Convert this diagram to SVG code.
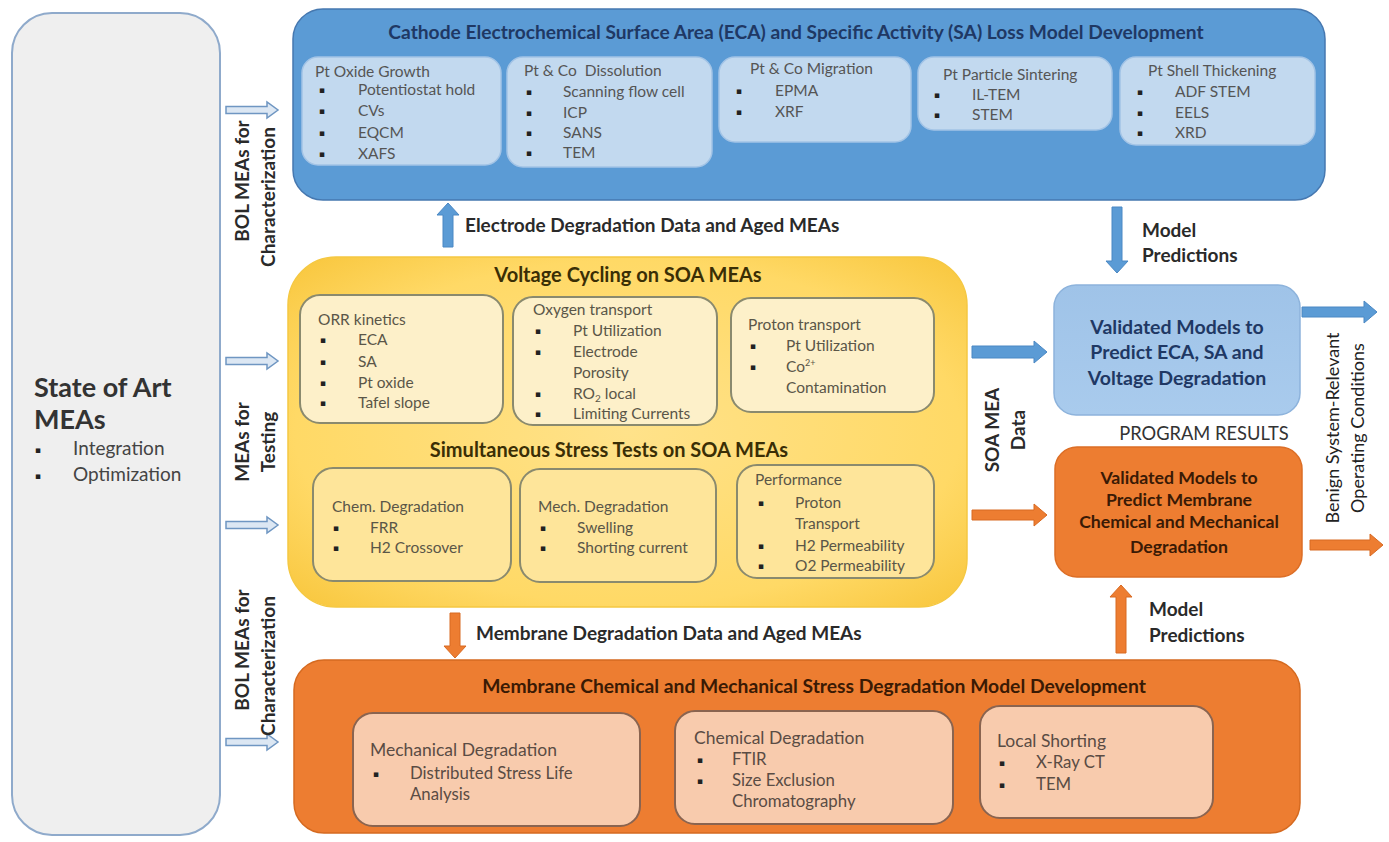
<svg xmlns="http://www.w3.org/2000/svg" width="1389" height="842" viewBox="0 0 1389 842">
<defs>
<radialGradient id="gY" cx="0.5" cy="0.5" r="0.7">
<stop offset="0" stop-color="#ffe28a"/><stop offset="0.7" stop-color="#ffd966"/><stop offset="1" stop-color="#f8c63c"/>
</radialGradient>
<linearGradient id="gB" x1="0" y1="0" x2="0" y2="1">
<stop offset="0" stop-color="#9fc3e8"/><stop offset="1" stop-color="#a9cbed"/>
</linearGradient>
<path id="hollow" d="M0,-3.5 H41 V-8 L52,0 L41,8 V3.5 H0 Z"/>
</defs>
<style>
text{font-family:Lato,"Liberation Sans",sans-serif}
.b{font-weight:bold}
.subB{fill:#c2d9ef;stroke:#a3c4e6;stroke-width:1.5}
.subY1{fill:#fdf0c9;stroke:#8a8a6e;stroke-width:2}
.subY2{fill:#fee59a;stroke:#8a8a6e;stroke-width:2}
.subO{fill:#f8cbad;stroke:#8a6450;stroke-width:2}
.t{font-size:15.5px;fill:#555}
.ty{font-size:15.5px;fill:#5a5648}
.to{font-size:16.8px;fill:#5a4c44}
.toh{font-size:17.5px;fill:#5a4c44}
.bu{font-family:"DejaVu Sans",sans-serif;font-size:9px;fill:#222;transform:translateY(-2px)}
.lab{font-size:19px;font-weight:bold;fill:#2a2a2a}
.hol{fill:#dce7f3;stroke:#6f96c2;stroke-width:1.5}
.ab{fill:#5b9bd5;stroke:#4a88c4;stroke-width:1}
.ao{fill:#ed7d31;stroke:#d86a22;stroke-width:1}
</style>

<!-- State of Art MEAs -->
<g id="soa">
<rect x="12" y="13" width="208" height="822" rx="40" fill="#efefef" stroke="#8faacb" stroke-width="2"/>
<text x="34" y="397" class="b" font-size="27" fill="#333">State of Art</text>
<text x="34" y="429" class="b" font-size="27" fill="#333">MEAs</text>
<text x="35" y="455" class="bu">▪</text><text x="73" y="455" font-size="19" fill="#444">Integration</text>
<text x="35" y="481" class="bu">▪</text><text x="73" y="481" font-size="19" fill="#444">Optimization</text>
</g>

<!-- Cathode model -->
<g id="cathode-model">
<rect x="293" y="9" width="1032" height="191" rx="30" fill="#5b9bd5" stroke="#4678b0" stroke-width="1.5"/>
<text x="796" y="39" text-anchor="middle" class="b" font-size="19.2" fill="#1f3864">Cathode Electrochemical Surface Area (ECA) and Specific Activity (SA) Loss Model Development</text>
</g>
<g id="pt-oxide">
<rect x="302" y="57" width="199" height="108" rx="16" class="subB"/>
<text x="315" y="77" class="t">Pt Oxide Growth</text>
<text x="319" y="95" class="bu">▪</text><text x="358" y="95" class="t">Potentiostat hold</text>
<text x="319" y="116" class="bu">▪</text><text x="358" y="116" class="t">CVs</text>
<text x="319" y="138" class="bu">▪</text><text x="358" y="138" class="t">EQCM</text>
<text x="319" y="159" class="bu">▪</text><text x="358" y="159" class="t">XAFS</text>
</g>
<g id="dissolution">
<rect x="507" y="57" width="205" height="110" rx="16" class="subB"/>
<text x="524" y="76" class="t">Pt &amp; Co&#160; Dissolution</text>
<text x="526" y="97" class="bu">▪</text><text x="563" y="97" class="t">Scanning flow cell</text>
<text x="526" y="118" class="bu">▪</text><text x="563" y="118" class="t">ICP</text>
<text x="526" y="138" class="bu">▪</text><text x="563" y="138" class="t">SANS</text>
<text x="526" y="158" class="bu">▪</text><text x="563" y="158" class="t">TEM</text>
</g>
<g id="migration">
<rect x="719" y="57" width="192" height="85" rx="16" class="subB"/>
<text x="750" y="74" class="t">Pt &amp; Co Migration</text>
<text x="736" y="96" class="bu">▪</text><text x="775" y="96" class="t">EPMA</text>
<text x="736" y="117" class="bu">▪</text><text x="775" y="117" class="t">XRF</text>
</g>
<g id="sintering">
<rect x="918" y="57" width="194" height="73" rx="16" class="subB"/>
<text x="943" y="80" class="t">Pt Particle Sintering</text>
<text x="934" y="100" class="bu">▪</text><text x="972" y="100" class="t">IL-TEM</text>
<text x="934" y="120" class="bu">▪</text><text x="972" y="120" class="t">STEM</text>
</g>
<g id="shell">
<rect x="1120" y="57" width="195" height="88" rx="16" class="subB"/>
<text x="1148" y="76" class="t">Pt Shell Thickening</text>
<text x="1137" y="97" class="bu">▪</text><text x="1175" y="97" class="t">ADF STEM</text>
<text x="1137" y="118" class="bu">▪</text><text x="1175" y="118" class="t">EELS</text>
<text x="1137" y="138" class="bu">▪</text><text x="1175" y="138" class="t">XRD</text>
</g>

<!-- Yellow testing box -->
<g id="testing">
<rect x="288" y="257" width="679" height="350" rx="48" fill="url(#gY)" stroke="#f5c842" stroke-width="1.5"/>
<text x="628" y="282" text-anchor="middle" class="b" font-size="20" fill="#3a2e05">Voltage Cycling on SOA MEAs</text>
<text x="609" y="457" text-anchor="middle" class="b" font-size="20" fill="#3a2e05">Simultaneous Stress Tests on SOA MEAs</text>
</g>
<g id="orr">
<rect x="300" y="295" width="203" height="128" rx="20" class="subY1"/>
<text x="318" y="325" class="ty">ORR kinetics</text>
<text x="320" y="345" class="bu">▪</text><text x="358" y="345" class="ty">ECA</text>
<text x="320" y="367" class="bu">▪</text><text x="358" y="367" class="ty">SA</text>
<text x="320" y="388" class="bu">▪</text><text x="358" y="388" class="ty">Pt oxide</text>
<text x="320" y="408" class="bu">▪</text><text x="358" y="408" class="ty">Tafel slope</text>
</g>
<g id="oxygen">
<rect x="513" y="297" width="204" height="128" rx="20" class="subY1"/>
<text x="533" y="315" class="ty">Oxygen transport</text>
<text x="535" y="336" class="bu">▪</text><text x="573" y="336" class="ty">Pt Utilization</text>
<text x="535" y="357" class="bu">▪</text><text x="573" y="357" class="ty">Electrode</text>
<text x="573" y="378" class="ty">Porosity</text>
<text x="535" y="399" class="bu">▪</text><text x="573" y="399" class="ty">RO<tspan font-size="10" dy="3">2</tspan><tspan dy="-3"> local</tspan></text>
<text x="535" y="419" class="bu">▪</text><text x="573" y="419" class="ty">Limiting Currents</text>
</g>
<g id="proton">
<rect x="731" y="298" width="203" height="114" rx="20" class="subY1"/>
<text x="748" y="330" class="ty">Proton transport</text>
<text x="750" y="351" class="bu">▪</text><text x="786" y="351" class="ty">Pt Utilization</text>
<text x="750" y="372" class="bu">▪</text><text x="786" y="372" class="ty">Co<tspan font-size="9" dy="-6">2+</tspan></text>
<text x="786" y="393" class="ty">Contamination</text>
</g>
<g id="chem-deg">
<rect x="313" y="468" width="198" height="113" rx="20" class="subY2"/>
<text x="332" y="512" class="ty">Chem. Degradation</text>
<text x="333" y="533" class="bu">▪</text><text x="370" y="533" class="ty">FRR</text>
<text x="333" y="553" class="bu">▪</text><text x="370" y="553" class="ty">H2 Crossover</text>
</g>
<g id="mech-deg">
<rect x="520" y="469" width="196" height="113" rx="20" class="subY2"/>
<text x="538" y="512" class="ty">Mech. Degradation</text>
<text x="540" y="533" class="bu">▪</text><text x="577" y="533" class="ty">Swelling</text>
<text x="540" y="553" class="bu">▪</text><text x="577" y="553" class="ty">Shorting current</text>
</g>
<g id="performance">
<rect x="737" y="465" width="197" height="113" rx="20" class="subY2"/>
<text x="755" y="485" class="ty">Performance</text>
<text x="758" y="508" class="bu">▪</text><text x="795" y="508" class="ty">Proton</text>
<text x="795" y="529" class="ty">Transport</text>
<text x="758" y="551" class="bu">▪</text><text x="795" y="551" class="ty">H2 Permeability</text>
<text x="758" y="571" class="bu">▪</text><text x="795" y="571" class="ty">O2 Permeability</text>
</g>

<!-- Membrane model -->
<g id="membrane-model">
<rect x="294" y="660" width="1006" height="173" rx="30" fill="#ed7d31" stroke="#d56a20" stroke-width="1.5"/>
<text x="814" y="693" text-anchor="middle" class="b" font-size="19.3" fill="#3a1a04">Membrane Chemical and Mechanical Stress Degradation Model Development</text>
</g>
<g id="mech-model">
<rect x="353" y="713" width="287" height="113" rx="20" class="subO"/>
<text x="370" y="756" class="toh">Mechanical Degradation</text>
<text x="373" y="779" class="bu">▪</text><text x="410" y="779" class="to">Distributed Stress Life</text>
<text x="410" y="800" class="to">Analysis</text>
</g>
<g id="chem-model">
<rect x="675" y="711" width="278" height="113" rx="20" class="subO"/>
<text x="694" y="744" class="toh">Chemical Degradation</text>
<text x="697" y="765" class="bu">▪</text><text x="732" y="765" class="to">FTIR</text>
<text x="697" y="786" class="bu">▪</text><text x="732" y="786" class="to">Size Exclusion</text>
<text x="732" y="807" class="to">Chromatography</text>
</g>
<g id="shorting">
<rect x="980" y="706" width="233" height="112" rx="20" class="subO"/>
<text x="997" y="747" class="toh">Local Shorting</text>
<text x="999" y="768" class="bu">▪</text><text x="1036" y="768" class="to">X-Ray CT</text>
<text x="999" y="790" class="bu">▪</text><text x="1036" y="790" class="to">TEM</text>
</g>

<!-- Results -->
<g id="result-eca">
<rect x="1054" y="285" width="246" height="130" rx="22" fill="url(#gB)" stroke="#8db3dc" stroke-width="1.5"/>
<text x="1177" y="334" text-anchor="middle" class="b" font-size="19.5" fill="#1f3864">Validated Models to</text>
<text x="1177" y="359" text-anchor="middle" class="b" font-size="19.5" fill="#1f3864">Predict ECA, SA and</text>
<text x="1177" y="385" text-anchor="middle" class="b" font-size="19.5" fill="#1f3864">Voltage Degradation</text>
</g>
<g id="result-membrane">
<rect x="1055" y="447" width="247" height="130" rx="22" fill="#ed7d31" stroke="#dc6e26" stroke-width="1.5"/>
<text x="1179" y="484" text-anchor="middle" class="b" font-size="17.7" fill="#3a1a05">Validated Models to</text>
<text x="1179" y="506" text-anchor="middle" class="b" font-size="17.7" fill="#3a1a05">Predict Membrane</text>
<text x="1179" y="528" text-anchor="middle" class="b" font-size="17.7" fill="#3a1a05">Chemical and Mechanical</text>
<text x="1179" y="553" text-anchor="middle" class="b" font-size="17.7" fill="#3a1a05">Degradation</text>
</g>
<text x="1204" y="440" text-anchor="middle" font-size="18.3" fill="#333">PROGRAM RESULTS</text>

<!-- Connectors -->
<g id="connectors">
<use href="#hollow" class="hol" x="226" y="110"/>
<use href="#hollow" class="hol" x="226" y="361"/>
<use href="#hollow" class="hol" x="226" y="525"/>
<use href="#hollow" class="hol" x="226" y="742"/>
<path class="ab" d="M443,247 V215 H437 L448,203 L459,215 H453 V247 Z"/>
<path class="ab" d="M1112,207 V261 H1106 L1117,273 L1128,261 H1122 V207 Z"/>
<path class="ab" d="M972,346 H1034 V341 L1047,352 L1034,363 V358 H972 Z"/>
<path class="ao" d="M972,510 H1034 V504 L1047,515 L1034,526 V520 H972 Z"/>
<path class="ab" d="M1302,307 H1364 V301 L1377,312 L1364,323 V317 H1302 Z"/>
<path class="ao" d="M1310,540 H1370 V534 L1383,545 L1370,556 V550 H1310 Z"/>
<path class="ao" d="M450,613 V646 H444 L455,658 L466,646 H460 V613 Z"/>
<path class="ao" d="M1116,653 V597 H1110 L1121,585 L1132,597 H1126 V653 Z"/>

<text x="465" y="232" class="lab">Electrode Degradation Data and Aged MEAs</text>
<text x="476" y="640" class="lab">Membrane Degradation Data and Aged MEAs</text>
<text x="1142" y="237" class="lab">Model</text>
<text x="1142" y="262" class="lab">Predictions</text>
<text x="1149" y="616" class="lab">Model</text>
<text x="1149" y="642" class="lab">Predictions</text>

<text transform="translate(249,181) rotate(-90)" text-anchor="middle" class="lab">BOL MEAs for</text>
<text transform="translate(275,197) rotate(-90)" text-anchor="middle" class="lab">Characterization</text>
<text transform="translate(249,442) rotate(-90)" text-anchor="middle" class="lab">MEAs for</text>
<text transform="translate(275,442) rotate(-90)" text-anchor="middle" class="lab">Testing</text>
<text transform="translate(249,650) rotate(-90)" text-anchor="middle" class="lab">BOL MEAs for</text>
<text transform="translate(275,666) rotate(-90)" text-anchor="middle" class="lab">Characterization</text>
<text transform="translate(999,430) rotate(-90)" text-anchor="middle" class="lab">SOA MEA</text>
<text transform="translate(1025,430) rotate(-90)" text-anchor="middle" class="lab">Data</text>
<text transform="translate(1339,428) rotate(-90)" text-anchor="middle" font-size="18" fill="#222">Benign System-Relevant</text>
<text transform="translate(1364,428) rotate(-90)" text-anchor="middle" font-size="18" fill="#222">Operating Conditions</text>
</g>
</svg>
